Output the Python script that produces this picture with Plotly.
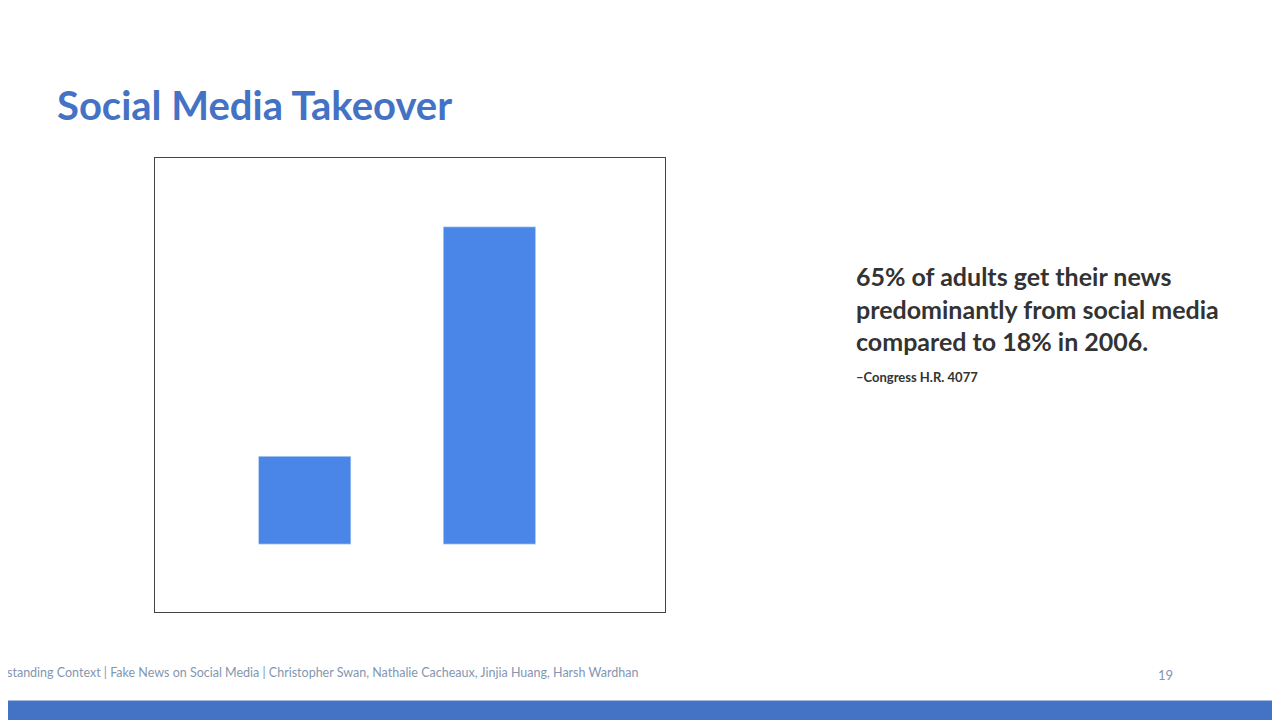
import plotly.graph_objects as go

years = ["2006", "2016"]
shares = [18, 65]
labels = ["18%", "65%"]

fig = go.Figure()
fig.add_trace(go.Bar(x=years, y=shares, width=0.5, marker_color="#4A86E8",
                     textposition="none"))
for yr, v, t in zip(years, shares, labels):
    ypos = v / 2 if v < 30 else v - 12
    fig.add_annotation(x=yr, y=ypos, text=f"<b>{t}</b>", showarrow=False,
                       font=dict(color="white", size=20, family="Lato"))
    fig.add_annotation(x=yr, y=-7.4, text=yr, showarrow=False,
                       font=dict(color="#222", size=16, family="Lato"))

fig.update_layout(
    width=1280, height=720, plot_bgcolor="white", paper_bgcolor="white",
    margin=dict(l=147, r=623, t=150, b=116), showlegend=False,
    xaxis=dict(type="category", range=[-0.81, 1.95], showticklabels=False, showgrid=False,
               zeroline=False, showline=True, mirror=True, linecolor="#444"),
    yaxis=dict(range=[-13.9, 79.1], showticklabels=False, showgrid=False,
               zeroline=False, showline=True, mirror=True, linecolor="#444"),
)
fig.add_annotation(xref="paper", yref="paper", x=-0.196, y=1.175, xanchor="left",
                   text="<b>Social Media Takeover</b>", showarrow=False,
                   font=dict(color="#4472C4", size=40, family="Lato"))
fig.add_annotation(xref="paper", yref="paper", x=1.37, y=0.56, xanchor="left", yanchor="bottom",
                   align="left", showarrow=False,
                   text="<b>65% of adults get their news<br>predominantly from social media<br>compared to 18% in 2006.</b>",
                   font=dict(color="#333", size=25, family="Lato"))
fig.add_annotation(xref="paper", yref="paper", x=1.37, y=0.54, xanchor="left", yanchor="top",
                   showarrow=False, text="<b>–Congress H.R. 4077</b>",
                   font=dict(color="#333", size=13, family="Lato"))
fig.add_annotation(xref="paper", yref="paper", x=0.95, y=-0.155, showarrow=False,
                   text="Building and Understanding Context | Fake News on Social Media | Christopher Swan, Nathalie Cacheaux, Jinjia Huang, Harsh Wardhan",
                   font=dict(color="#8496b0", size=12.5, family="Lato"))
fig.add_annotation(xref="paper", yref="paper", x=2.0, y=-0.16, showarrow=False,
                   text="19", font=dict(color="#8496b0", size=13, family="Lato"))
fig.add_shape(type="rect", xref="paper", yref="paper", x0=-0.31, x1=2.25,
              y0=-0.26, y1=-0.195, fillcolor="#4472C4", line_width=0, layer="below")

fig.write_html("out.html")
